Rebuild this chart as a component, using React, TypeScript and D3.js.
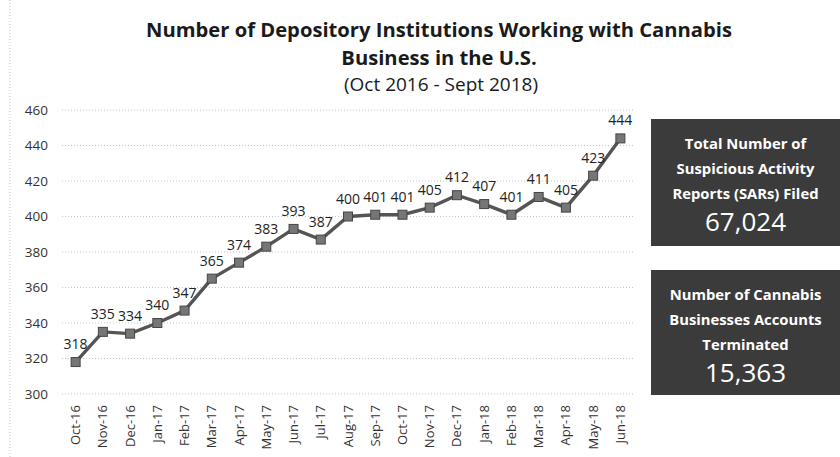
import React, { useRef, useEffect } from "react";
import * as d3 from "d3";

const months = [
  "Oct-16", "Nov-16", "Dec-16", "Jan-17", "Feb-17", "Mar-17", "Apr-17",
  "May-17", "Jun-17", "Jul-17", "Aug-17", "Sep-17", "Oct-17", "Nov-17",
  "Dec-17", "Jan-18", "Feb-18", "Mar-18", "Apr-18", "May-18", "Jun-18",
];
const institutions = [
  318, 335, 334, 340, 347, 365, 374, 383, 393, 387, 400, 401, 401, 405,
  412, 407, 401, 411, 405, 423, 444,
];
const yTicks = [300, 320, 340, 360, 380, 400, 420, 440, 460];

const titleLines = ["Number of Depository Institutions Working with Cannabis", "Business in the U.S."];
const subtitle = "(Oct 2016 - Sept 2018)";

const sarBoxLines = ["Total Number of", "Suspicious Activity", "Reports (SARs) Filed"];
const sarTotal = "67,024";
const terminatedBoxLines = ["Number of Cannabis", "Businesses Accounts", "Terminated"];
const terminatedTotal = "15,363";

const W = 840;
const H = 457;
const FONT = "'Open Sans', 'Noto Sans', sans-serif";

export default function App() {
  const svgRef = useRef<SVGSVGElement>(null);

  useEffect(() => {
    const svg = d3.select(svgRef.current);
    svg.selectAll("*").remove();

    const plot = { left: 62, right: 634, top: 110, bottom: 394 };

    const x = d3.scaleBand().domain(months).range([plot.left, plot.right]);
    const y = d3.scaleLinear().domain([300, 460]).range([plot.bottom, plot.top]);
    const cx = (m: string) => (x(m) || 0) + x.bandwidth() / 2;

    svg.append("rect").attr("width", W).attr("height", H).attr("fill", "#fff");

    // faint page edge on the left
    svg.append("line")
      .attr("x1", 10).attr("x2", 10).attr("y1", 0).attr("y2", H)
      .attr("stroke", "#c8c8c8").attr("stroke-dasharray", "1,2");

    // title
    const title = svg.append("g").attr("font-family", FONT).attr("fill", "#1a1a1a").attr("text-anchor", "middle");
    titleLines.forEach((t, i) => {
      title.append("text")
        .attr("x", 439).attr("y", 37 + i * 28)
        .attr("font-size", 20.2).attr("font-weight", 700)
        .text(t);
    });
    title.append("text")
      .attr("x", 441).attr("y", 91)
      .attr("font-size", 19)
      .text(subtitle);

    // gridlines + y labels
    const grid = svg.append("g");
    grid.selectAll("line")
      .data(yTicks)
      .enter()
      .append("line")
      .attr("x1", plot.left).attr("x2", plot.right)
      .attr("y1", (d) => y(d)).attr("y2", (d) => y(d))
      .attr("stroke", "#c4c4c4")
      .attr("stroke-width", 1)
      .attr("stroke-dasharray", "1,2");

    grid.selectAll("text")
      .data(yTicks)
      .enter()
      .append("text")
      .attr("x", 48)
      .attr("y", (d) => y(d))
      .attr("dy", "0.35em")
      .attr("text-anchor", "end")
      .attr("font-family", FONT)
      .attr("font-size", 13.5)
      .attr("fill", "#333")
      .text((d) => d);

    // x labels, rotated
    svg.append("g")
      .selectAll("text")
      .data(months)
      .enter()
      .append("text")
      .attr("transform", (d) => `translate(${cx(d) + 4.5},405) rotate(-90)`)
      .attr("text-anchor", "end")
      .attr("font-family", FONT)
      .attr("font-size", 13)
      .attr("fill", "#333")
      .text((d) => d);

    // line
    const line = d3.line<number>()
      .x((_, i) => cx(months[i]))
      .y((d) => y(d));

    svg.append("path")
      .datum(institutions)
      .attr("d", line)
      .attr("fill", "none")
      .attr("stroke", "#555")
      .attr("stroke-width", 3.4);

    // square markers
    const ms = 9;
    svg.append("g")
      .selectAll("rect")
      .data(institutions)
      .enter()
      .append("rect")
      .attr("x", (_, i) => cx(months[i]) - ms / 2)
      .attr("y", (d) => y(d) - ms / 2)
      .attr("width", ms)
      .attr("height", ms)
      .attr("fill", "#767676")
      .attr("stroke", "#454545")
      .attr("stroke-width", 1);

    // data labels
    svg.append("g")
      .selectAll("text")
      .data(institutions)
      .enter()
      .append("text")
      .attr("x", (_, i) => cx(months[i]))
      .attr("y", (d) => y(d) - 13)
      .attr("text-anchor", "middle")
      .attr("font-family", FONT)
      .attr("font-size", 14)
      .attr("fill", "#222")
      .text((d) => d);

    // side boxes
    const drawBox = (top: number, height: number, lines: string[], total: string) => {
      const g = svg.append("g");
      g.append("rect")
        .attr("x", 651).attr("y", top)
        .attr("width", W - 651).attr("height", height)
        .attr("fill", "#3b3b3b");
      const mid = 651 + (W - 651) / 2;
      lines.forEach((t, i) => {
        g.append("text")
          .attr("x", mid).attr("y", top + 30 + i * 25)
          .attr("text-anchor", "middle")
          .attr("font-family", FONT)
          .attr("font-size", 14.8)
          .attr("font-weight", 700)
          .attr("fill", "#fff")
          .text(t);
      });
      g.append("text")
        .attr("x", mid).attr("y", top + 30 + lines.length * 25 + 7)
        .attr("text-anchor", "middle")
        .attr("font-family", FONT)
        .attr("font-size", 26)
        .attr("fill", "#fff")
        .text(total);
    };
    drawBox(119, 127, sarBoxLines, sarTotal);
    drawBox(270, 125, terminatedBoxLines, terminatedTotal);
  }, []);

  return (
    <div style={{ position: "absolute", left: 0, top: 0 }}>
      <svg ref={svgRef} width={W} height={H} style={{ display: "block" }} />
    </div>
  );
}
